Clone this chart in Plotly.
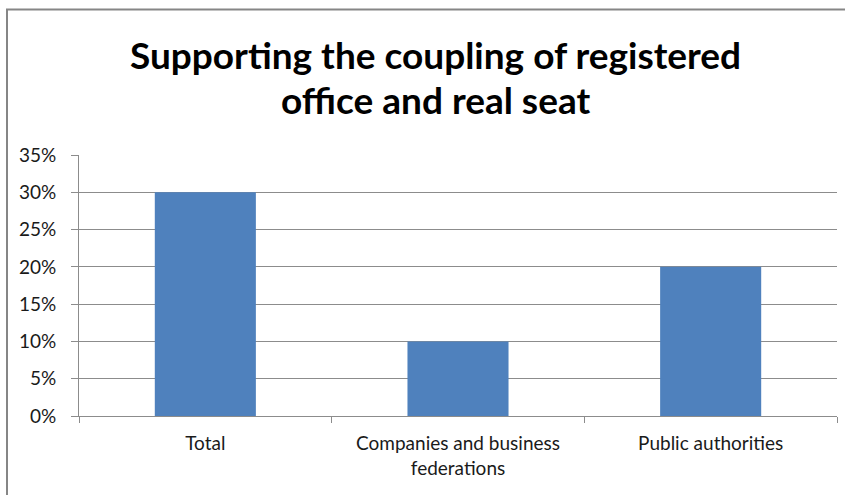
import plotly.graph_objects as go

# Share of respondents supporting the coupling of registered office and real seat
categories = ["Total", "Companies and business<br>federations", "Public authorities"]
support_share = [0.30, 0.10, 0.20]

y_ticks = [0, 0.05, 0.10, 0.15, 0.20, 0.25, 0.30, 0.35]

title_lines = ["Supporting the coupling of registered", "office and real seat"]

BAR_COLOR = "#4F81BD"
GRID_COLOR = "#8C8C8C"
FONT = "Lato, Carlito, Calibri, sans-serif"

PLOT_LEFT, PLOT_RIGHT = 79, 837   # pixel columns of the plot area
PLOT_TOP, PLOT_BOTTOM = 155, 416  # pixel rows of the plot area


def paper_x(px):
    """Convert a pixel column of the page to a paper x fraction."""
    return (px - PLOT_LEFT) / (PLOT_RIGHT - PLOT_LEFT)


def paper_y(px):
    """Convert a pixel row of the page to a paper y fraction."""
    return (PLOT_BOTTOM - px) / (PLOT_BOTTOM - PLOT_TOP)


fig = go.Figure(
    go.Bar(
        x=categories,
        y=support_share,
        marker=dict(color=BAR_COLOR, line=dict(width=0)),
        width=0.4,
    )
)

title_annotations = [
    dict(
        text=f"<b>{line}</b>",
        xref="paper",
        yref="paper",
        x=paper_x(435),
        y=paper_y(row),
        xanchor="center",
        yanchor="middle",
        showarrow=False,
        font=dict(family=FONT, size=37, color="#000000"),
    )
    for line, row in zip(title_lines, [54, 99])
]

fig.update_layout(
    width=845,
    height=495,
    margin=dict(l=PLOT_LEFT, r=845 - PLOT_RIGHT, t=PLOT_TOP, b=495 - PLOT_BOTTOM),
    paper_bgcolor="white",
    plot_bgcolor="white",
    showlegend=False,
    font=dict(family=FONT, size=19, color="#000000"),
    annotations=title_annotations,
    shapes=[
        # chart frame
        dict(
            type="rect",
            xref="paper",
            yref="paper",
            x0=paper_x(7),
            x1=1.2,
            y0=-0.5,
            y1=paper_y(9.5),
            line=dict(color="#868686", width=2),
            fillcolor="rgba(0,0,0,0)",
            layer="below",
        )
    ],
)

fig.update_xaxes(
    type="category",
    showgrid=False,
    showline=True,
    linecolor=GRID_COLOR,
    linewidth=1,
    ticks="outside",
    tickson="boundaries",
    ticklen=6,
    tickcolor=GRID_COLOR,
    ticklabelstandoff=10,
    tickfont=dict(family=FONT, size=19, color="#1a1a1a"),
)

fig.update_yaxes(
    range=[0, 0.35],
    tickvals=y_ticks,
    tickformat=".0%",
    showgrid=True,
    gridcolor=GRID_COLOR,
    gridwidth=1,
    showline=True,
    linecolor=GRID_COLOR,
    linewidth=1,
    ticks="outside",
    ticklen=7,
    tickcolor=GRID_COLOR,
    ticklabelstandoff=11,
    zeroline=False,
    tickfont=dict(family=FONT, size=19, color="#1a1a1a"),
)

fig.write_html("out.html")
